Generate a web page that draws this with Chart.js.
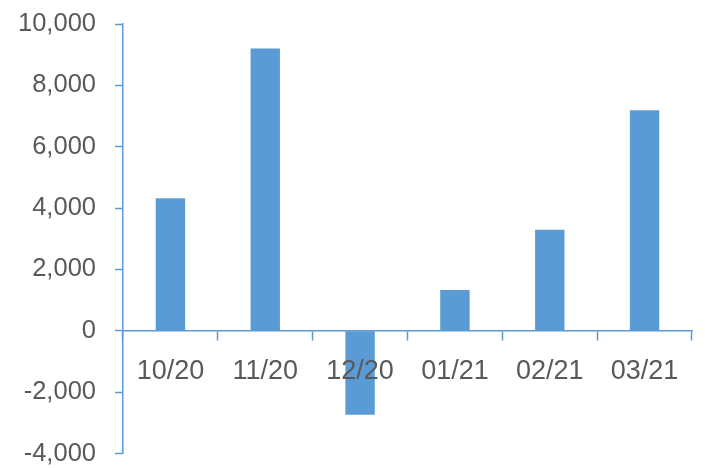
<!DOCTYPE html>
<html>
<head>
<meta charset="utf-8">
<script src="https://cdn.jsdelivr.net/npm/chart.js@4/dist/chart.umd.min.js"></script>
<style>
  html, body { margin: 0; padding: 0; background: #fff; }
  #wrap { width: 705px; height: 468px; }
</style>
</head>
<body>
<div id="wrap"><canvas id="mycanvas"></canvas></div>
<script>
// data
var months = ['10/20', '11/20', '12/20', '01/21', '02/21', '03/21'];
var values = [4320, 9200, -2740, 1330, 3290, 7190];
var yMin = -4000;
var yMax = 10000;
var yStep = 2000;

var blue = '#5B9BD5';
var textGrey = '#595959';
var yFont = { family: 'Liberation Sans', size: 25.5 };
var xFont = { family: 'Liberation Sans', size: 27 };

var chartdata = {
	labels: months,
	datasets: [
		{
			label: 'Value',
			backgroundColor: blue,
			borderWidth: 0,
			data: values,
			barPercentage: 0.31,
			categoryPercentage: 1
		}
	]
};

var ctx = document.getElementById('mycanvas');

var barGraph = new Chart(ctx, {
	type: 'bar',
	data: chartdata,
	options: {
		responsive: true,
		maintainAspectRatio: false,
		animation: false,
		layout: { padding: { top: 24, bottom: 14.5, right: 13, left: 0 } },
		plugins: {
			legend: { display: false },
			tooltip: { enabled: false }
		},
		scales: {
			x: {
				position: { y: 0 },
				grid: {
					offset: true,
					drawOnChartArea: false,
					drawTicks: true,
					tickLength: 9,
					tickColor: blue,
					tickWidth: 1.5
				},
				border: { color: blue, width: 1.5, z: 1 },
				ticks: { color: textGrey, font: xFont, padding: 16, maxRotation: 0, z: 1 }
			},
			y: {
				min: yMin,
				max: yMax,
				afterFit: function(scale) {
					scale.width = 123;
					scale.paddingTop = 0;
					scale.paddingBottom = 0;
				},
				grid: {
					drawOnChartArea: false,
					drawTicks: true,
					tickLength: 8,
					tickColor: blue,
					tickWidth: 1.5
				},
				border: { color: blue, width: 1.5 },
				ticks: { stepSize: yStep, color: textGrey, font: yFont, padding: 19 }
			}
		}
	}
});
</script>
</body>
</html>
